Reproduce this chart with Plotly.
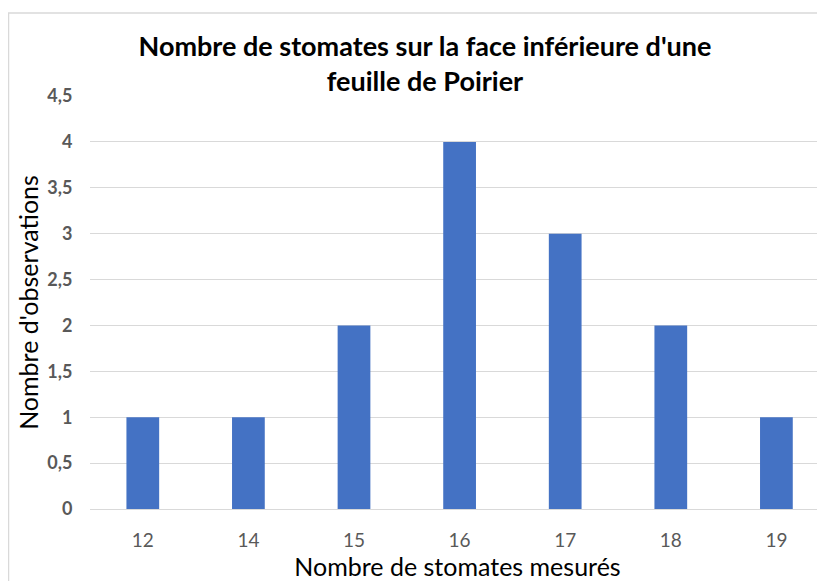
import plotly.graph_objects as go

categories = ["12", "14", "15", "16", "17", "18", "19"]
observations = [1, 1, 2, 4, 3, 2, 1]
y_ticks = [0, 0.5, 1, 1.5, 2, 2.5, 3, 3.5, 4, 4.5]
y_tick_labels = ["0", "0,5", "1", "1,5", "2", "2,5", "3", "3,5", "4", "4,5"]

# page body has an 8px margin; figure coords = screen px - 8
OFF = 8
W, H = 825 - OFF, 581 - OFF
ml, mr = 90 - OFF, 0
mt = 96 - OFF
mb = H - (509 - OFF)
pw = W - ml - mr
ph = H - mt - mb
step = 105.6

fig = go.Figure(go.Bar(
    x=categories, y=observations,
    marker=dict(color="#4472C4", line=dict(width=0)),
    width=0.31,
))

font = "Lato, Liberation Sans, sans-serif"
fig.update_layout(
    width=W, height=H,
    margin=dict(l=ml, r=mr, t=mt, b=mb, autoexpand=False),
    paper_bgcolor="white", plot_bgcolor="white",
    font=dict(family=font),
    showlegend=False,
    title=dict(
        text="Nombre de stomates sur la face inférieure d'une<br>feuille de Poirier",
        x=(425 - OFF) / W, xanchor="center",
        y=1 - (56 - OFF) / H, yanchor="top",
        font=dict(size=27, color="black", family=font, weight="bold"),
    ),
    xaxis=dict(
        type="category",
        range=[-0.5, -0.5 + pw / step],
        showgrid=False, showline=True, linecolor="#d9d9d9", linewidth=1,
        ticks="outside", ticklen=14, tickcolor="rgba(0,0,0,0)",
        tickfont=dict(size=19, color="#595959"),
        title=dict(text="Nombre de stomates mesurés", font=dict(size=25, color="black"), standoff=4),
        zeroline=False, automargin=False,
    ),
    yaxis=dict(
        range=[0, 4.5],
        tickvals=y_ticks, ticktext=y_tick_labels,
        showgrid=True, gridcolor="#d9d9d9", gridwidth=1,
        zeroline=False, showline=False,
        tickfont=dict(size=18, color="#595959", weight="bold"),
        ticks="outside", ticklen=13, tickcolor="rgba(0,0,0,0)",
        title=dict(text="Nombre d'observations", font=dict(size=25, color="black"), standoff=1),
        automargin=False,
    ),
)

# chart border (left and top visible)
fig.add_shape(type="rect", xref="paper", yref="paper",
              x0=(8 - OFF + 0.5 - ml) / pw, x1=(W + 10 - ml) / pw,
              y0=-(mb + 10) / ph, y1=(H - mb - (13 - OFF)) / ph,
              line=dict(color="#d9d9d9", width=1.5), fillcolor="rgba(0,0,0,0)", layer="below")

fig.write_html("out.html")
